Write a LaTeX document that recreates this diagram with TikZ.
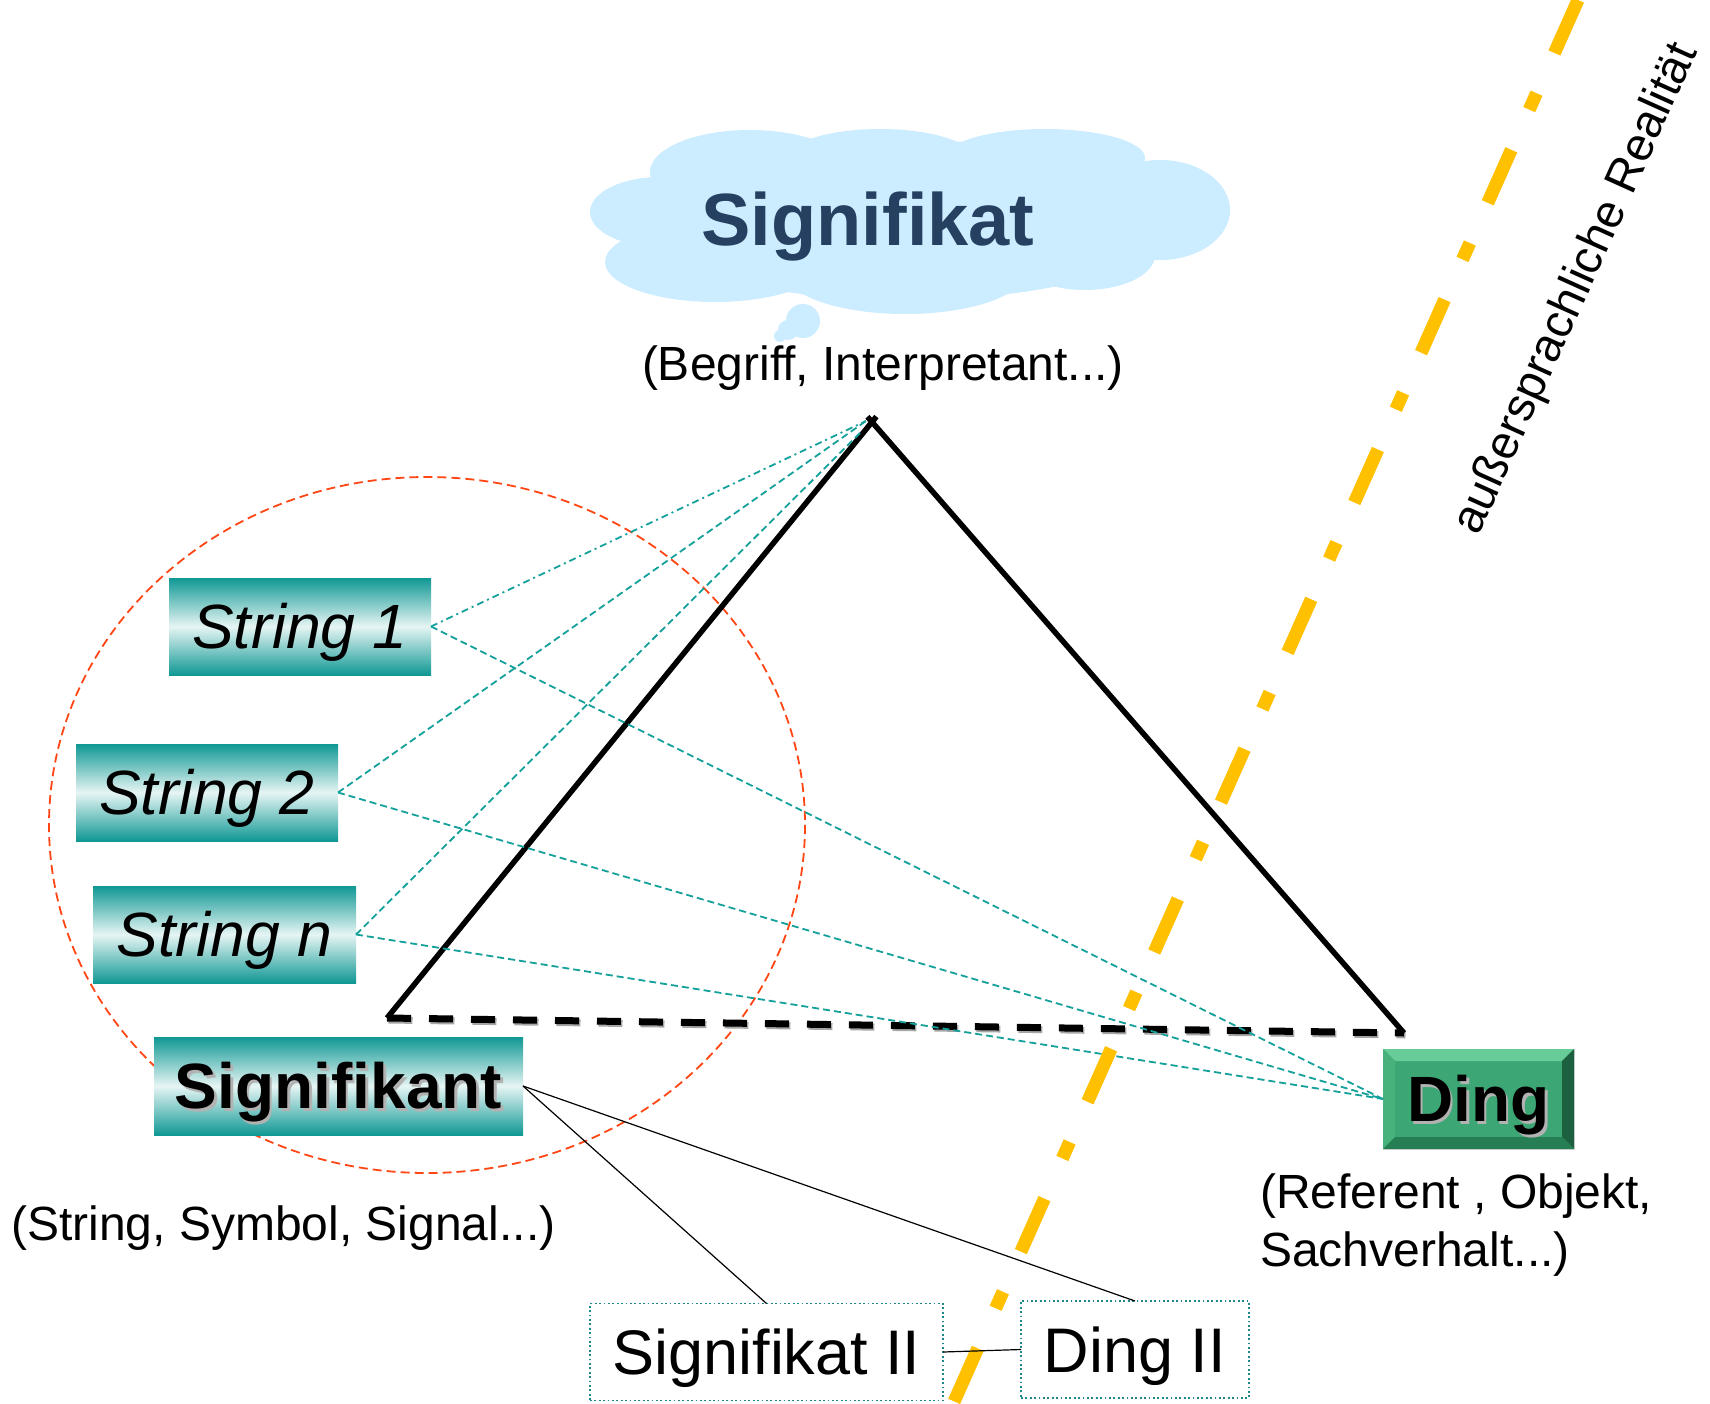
\documentclass[tikz,border=0pt]{standalone}
\usepackage{fontspec}
\setmainfont{Liberation Sans}
\usetikzlibrary{calc}
\definecolor{tealdark}{RGB}{16,152,148}
\definecolor{teallight}{RGB}{230,245,244}
\definecolor{tealline}{RGB}{20,160,155}
\definecolor{tealdot}{RGB}{30,135,135}
\definecolor{redline}{RGB}{255,70,20}
\definecolor{goldline}{RGB}{255,192,0}
\definecolor{cloudblue}{RGB}{204,236,255}
\definecolor{navytext}{RGB}{38,64,97}
\definecolor{dingmid}{RGB}{60,166,117}
\definecolor{dingtop}{RGB}{104,204,152}
\definecolor{dingleft}{RGB}{72,178,125}
\definecolor{dingright}{RGB}{28,96,64}
\definecolor{dingbottom}{RGB}{38,126,84}
\newcommand{\shadowed}[1]{\leavevmode\rlap{\kern2.5pt\raisebox{-2.5pt}{\textcolor{black!30}{#1}}}#1}
\tikzset{
  strbox/.style={top color=tealdark, bottom color=tealdark, middle color=teallight,
    inner sep=0pt, outer sep=0pt, minimum height=97pt, text height=44.4pt, text depth=0pt,
    font=\fontsize{62.5}{70}\selectfont\itshape},
  sigbox/.style={top color=tealdark, bottom color=tealdark, middle color=teallight,
    inner sep=0pt, outer sep=0pt, minimum width=369pt, minimum height=98pt, text height=45.8pt, text depth=0pt,
    font=\fontsize{64}{70}\selectfont\bfseries},
  dotbox/.style={draw=tealdot, line width=1.8pt, dash pattern=on 1.8pt off 2.6pt, fill=white,
    inner sep=0pt, outer sep=0pt, minimum height=97pt, text height=45pt, text depth=0pt,
    font=\fontsize{63}{70}\selectfont},
  lbl/.style={inner sep=0pt, font=\fontsize{48}{58}\selectfont},
  tealdash/.style={tealline, line width=1.8pt, dash pattern=on 7pt off 4pt},
  tealdashdot/.style={tealline, line width=1.8pt, dash pattern=on 7pt off 4pt on 2pt off 4pt},
  thinblack/.style={black, line width=1.2pt},
  cloudfill/.style={fill=cloudblue}
}
\begin{document}
\begin{tikzpicture}[x=1pt,y=-1pt]
\useasboundingbox (0,0) rectangle (1710,1404);
\fill[white] (0,0) rectangle (1710,1404);

% red dashed ellipse
\draw[redline, line width=1.8pt, dash pattern=on 9pt off 5pt] (427,825) ellipse [x radius=378, y radius=348];

% coordinates
\coordinate (apex) at (872,422);
\coordinate (apexin) at (866,421);
\coordinate (tl) at (387,1018);
\coordinate (tr) at (1404,1033);
\coordinate (otop) at (1578,0);
\coordinate (obot) at (953,1404);

% triangle
\draw[black!35, line width=7pt, dash pattern=on 24pt off 18pt] ($(tl)+(1.5,2)$) -- ($(tr)+(1.5,2)$);
\draw[black, line width=7pt, dash pattern=on 24pt off 18pt] (tl) -- (tr);
\draw[black, line width=5.5pt, shorten >=-7pt] (tl) -- (apex);
\draw[black, line width=5.5pt, shorten <=-7pt] (apex) -- (tr);

% string / sign boxes
\node[strbox, minimum width=262pt] (s1) at (300,626.5) {String 1};
\node[strbox, minimum width=262pt] (s2) at (207,792.5) {String 2};
\node[strbox, minimum width=263pt] (sn) at (224.5,934.5) {String n};
\node[sigbox] (sig) at (338.5,1086) {\shadowed{Signifikant}};

% Ding box with bevel
\node[fill=dingmid, draw=black!15, line width=0.8pt, inner sep=0pt, outer sep=0pt,
  minimum width=191pt, minimum height=100pt] (ding) at (1478.5,1099) {};
\fill[dingtop] (ding.north west) -- (ding.north east) -- ($(ding.north east)+(-12,12)$) -- ($(ding.north west)+(12,12)$) -- cycle;
\fill[dingleft] (ding.north west) -- (ding.south west) -- ($(ding.south west)+(12,-12)$) -- ($(ding.north west)+(12,12)$) -- cycle;
\fill[dingright] (ding.north east) -- (ding.south east) -- ($(ding.south east)+(-12,-12)$) -- ($(ding.north east)+(-12,12)$) -- cycle;
\fill[dingbottom] (ding.south west) -- (ding.south east) -- ($(ding.south east)+(-12,-12)$) -- ($(ding.south west)+(12,-12)$) -- cycle;
\node[inner sep=0pt, text height=45.8pt, text depth=0pt, font=\fontsize{64}{70}\selectfont\bfseries] (dingt) at (ding.center) {\shadowed{Ding}};

% teal connectors
\draw[tealdashdot] (s1.east) -- (apexin);
\draw[tealdash] (s2.east) -- (apexin);
\draw[tealdash] (sn.east) -- ($(apexin)+(-4,10)$);
\draw[tealdash] (s1.east) -- (ding.west);
\draw[tealdash] (s2.east) -- (ding.west);
\draw[tealdash] (sn.east) -- (ding.west);

% second-level boxes
\node[dotbox, minimum width=353pt] (sig2) at (766.5,1352) {Signifikat II};
\node[dotbox, minimum width=228pt] (ding2) at (1135,1349.5) {Ding II};
\draw[thinblack] (sig.east) -- (sig2.north);
\draw[thinblack] (sig.east) -- (ding2.north);

% orange dash-dot line
\draw[goldline, line width=13pt, dash pattern=on 58pt off 44pt on 18pt off 44pt] (otop) -- (obot);
\draw[thinblack] (sig2.east) -- (ding2.west);

% rotated label
\node[rotate=65.7, inner sep=0pt, font=\fontsize{47}{56}\selectfont] (real) at (1577,289) {außersprachliche Realität};

% cloud
\fill[cloudfill] (660,212) ellipse [x radius=70, y radius=35];
\fill[cloudfill] (750,172) ellipse [x radius=100, y radius=42];
\fill[cloudfill] (880,160) ellipse [x radius=95, y radius=31];
\fill[cloudfill] (1045,158) ellipse [x radius=100, y radius=29];
\fill[cloudfill] (1160,210) ellipse [x radius=70, y radius=50];
\fill[cloudfill] (1085,255) ellipse [x radius=70, y radius=35];
\fill[cloudfill] (905,272) ellipse [x radius=120, y radius=42];
\fill[cloudfill] (715,262) ellipse [x radius=110, y radius=40];
\fill[cloudfill] (905,220) ellipse [x radius=270, y radius=80];
\fill[cloudfill] (803,321) circle [radius=17];
\fill[cloudfill] (788,330) circle [radius=10];
\fill[cloudfill] (780,336) circle [radius=6];
\node[inner sep=0pt, anchor=base, text=navytext, font=\fontsize{74}{80}\selectfont\bfseries] (signifikat) at (868,246) {Signifikat};

% labels
\node[lbl, anchor=base] (begriff) at (883,381) {(Begriff, Interpretant...)};
\node[lbl, anchor=base west] (sigdesc) at (11,1240) {(String, Symbol, Signal...)};
\node[lbl, anchor=base west] (ref1) at (1260,1208) {(Referent , Objekt,};
\node[lbl, anchor=base west] (ref2) at (1260,1266) {Sachverhalt...)};
\end{tikzpicture}
\end{document}
